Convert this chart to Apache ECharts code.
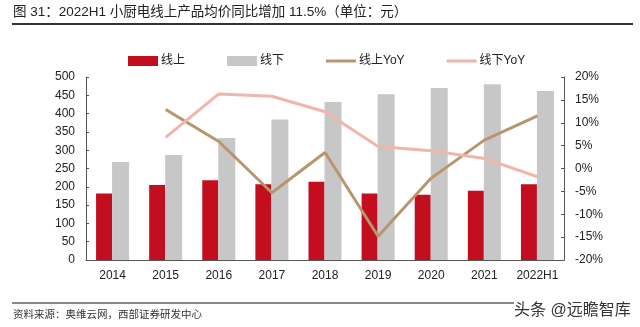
<!DOCTYPE html>
<html><head><meta charset="utf-8">
<script src="https://cdn.jsdelivr.net/npm/echarts@6/dist/echarts.min.js"></script>
<style>html,body{margin:0;padding:0;background:#fff}#c{width:640px;height:327px}</style>
</head><body><div id="c"></div>
<script>
const categories = ['2014','2015','2016','2017','2018','2019','2020','2021','2022H1'];
const onlinePrice = [182, 205, 218, 207, 214, 182, 178, 189, 207];
const offlinePrice = [268, 287, 333, 384, 432, 453, 470, 480, 462];
const onlineYoY = [null, 12.9, 5.9, -5.3, 3.5, -14.8, -2.1, 6.2, 11.5];
const offlineYoY = [null, 6.8, 16.3, 15.8, 12.4, 4.8, 3.9, 2.2, -1.8];
const seriesNames = ['线上', '线下', '线上YoY', '线下YoY'];
const titleText = '图 31：2022H1 小厨电线上产品均价同比增加 11.5%（单位：元）';
const sourceText = '资料来源：奥维云网，西部证券研发中心';
const watermark = '头条 @远瞻智库';

const FONT = '"Liberation Sans", Arial, "Noto Sans CJK SC", sans-serif';
const LINE_ICON = 'path://M0,0L0.01,0M0,3.5L30,3.5L30,6.5L0,6.5ZM29.99,10L30,10';
const chart = echarts.init(document.getElementById('c'), null, {renderer: 'canvas'});
const axisLabel = {color: '#222', fontSize: 12, fontFamily: FONT};
chart.setOption({
  animation: false,
  textStyle: {fontFamily: FONT},
  grid: {left: 86, right: 76, top: 77, bottom: 67},
  legend: {
    top: 50, left: 123, itemWidth: 30, itemHeight: 10, itemGap: 42,
    textStyle: {fontSize: 12, color: '#222', fontFamily: FONT, padding: [0,0,0,-2]},
    data: [
      {name: seriesNames[0], icon: 'rect'},
      {name: seriesNames[1], icon: 'rect'},
      {name: seriesNames[2], icon: LINE_ICON},
      {name: seriesNames[3], icon: LINE_ICON}
    ]
  },
  xAxis: {
    type: 'category', data: categories, boundaryGap: true,
    axisLine: {lineStyle: {color: '#555', width: 1}},
    axisTick: {inside: true, length: 3, lineStyle: {color: '#555'}},
    axisLabel: Object.assign({margin: 10, interval: 0}, axisLabel)
  },
  yAxis: [
    {type: 'value', min: 0, max: 500, interval: 50,
     axisLine: {show: true, lineStyle: {color: '#555'}},
     axisTick: {show: true, inside: true, length: 3, lineStyle: {color: '#555'}},
     splitLine: {show: false},
     axisLabel: Object.assign({margin: 11}, axisLabel)},
    {type: 'value', min: -20, max: 20, interval: 5,
     axisLine: {show: true, lineStyle: {color: '#555'}},
     axisTick: {show: true, inside: true, length: 3, lineStyle: {color: '#555'}},
     splitLine: {show: false},
     axisLabel: Object.assign({margin: 11, formatter: '{value}%'}, axisLabel)}
  ],
  series: [
    {name: seriesNames[0], type: 'bar', data: onlinePrice, barWidth: 16, barGap: '0%',
     itemStyle: {color: '#C20E1E'}},
    {name: seriesNames[1], type: 'bar', data: offlinePrice, barWidth: 17, barGap: '0%',
     itemStyle: {color: '#C7C7C7'}},
    {name: seriesNames[2], type: 'line', yAxisIndex: 1, data: onlineYoY, symbol: 'none',
     lineStyle: {color: '#B8956D', width: 3}, itemStyle: {color: '#B8956D'}},
    {name: seriesNames[3], type: 'line', yAxisIndex: 1, data: offlineYoY, symbol: 'none',
     lineStyle: {color: '#F0B6AB', width: 3}, itemStyle: {color: '#F0B6AB'}}
  ],
  graphic: [
    {type: 'text', left: 13, top: 6, style: {text: titleText, fontSize: 13.5, fill: '#222', fontFamily: FONT}},
    {type: 'line', shape: {x1: 12, y1: 24, x2: 633, y2: 24}, style: {stroke: '#333', lineWidth: 2}},
    {type: 'line', shape: {x1: 12, y1: 303, x2: 514, y2: 303}, style: {stroke: '#111', lineWidth: 1.2}},
    {type: 'text', left: 13, top: 310, style: {text: sourceText, fontSize: 10.5, fill: '#333', fontFamily: FONT}},
    {type: 'text', left: 513, top: 302, style: {text: watermark, fontSize: 16, fill: '#333', stroke: '#fff', lineWidth: 2, fontFamily: FONT}}
  ]
});
</script></body></html>
